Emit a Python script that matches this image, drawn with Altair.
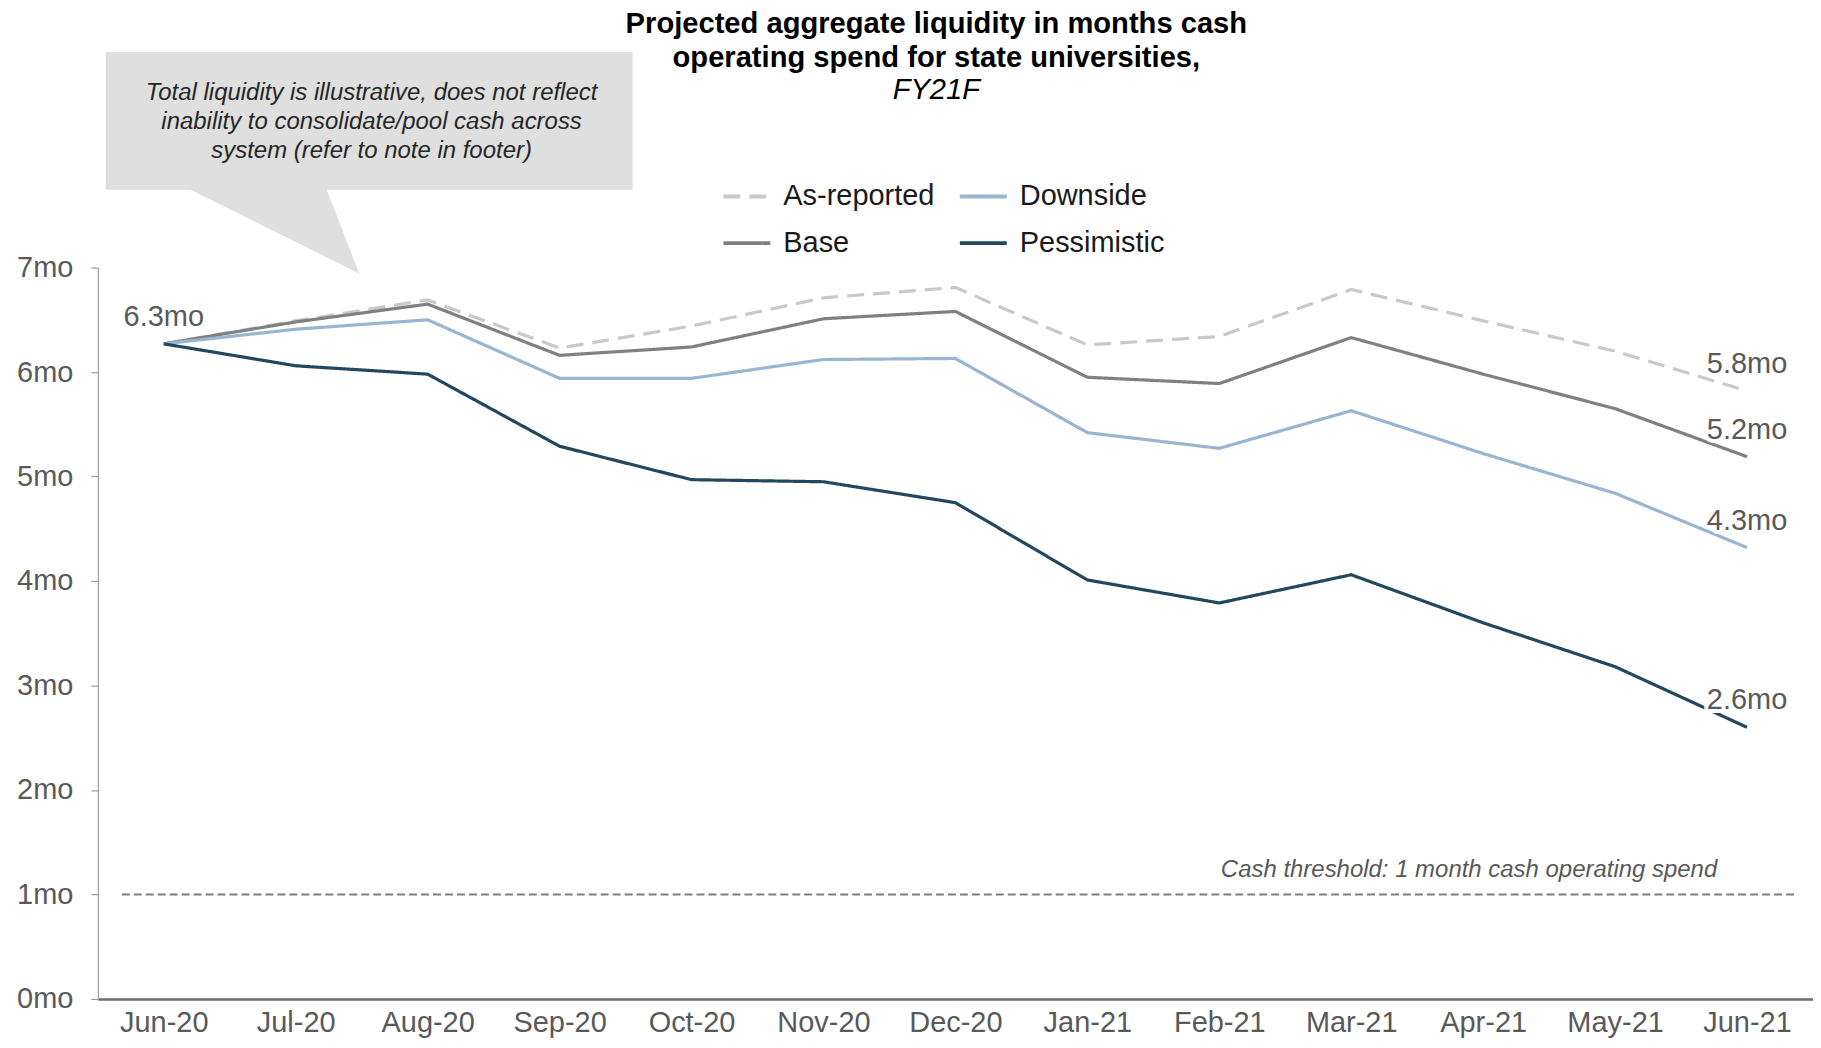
import altair as alt
import pandas as pd

FONT = "Liberation Sans"

months = ["Jun-20", "Jul-20", "Aug-20", "Sep-20", "Oct-20", "Nov-20", "Dec-20",
          "Jan-21", "Feb-21", "Mar-21", "Apr-21", "May-21", "Jun-21"]
as_reported = [6.27, 6.49, 6.69, 6.23, 6.44, 6.71, 6.81, 6.26, 6.34, 6.79, 6.49, 6.20, 5.82]
base = [6.27, 6.48, 6.65, 6.16, 6.24, 6.51, 6.58, 5.95, 5.89, 6.33, 5.98, 5.65, 5.19]
downside = [6.27, 6.41, 6.50, 5.94, 5.94, 6.12, 6.13, 5.42, 5.27, 5.63, 5.22, 4.84, 4.32]
pessimistic = [6.27, 6.06, 5.98, 5.29, 4.97, 4.95, 4.75, 4.01, 3.79, 4.06, 3.60, 3.18, 2.60]

# legend fills column by column: (As-reported, Base) | (Downside, Pessimistic)
series_names = ["As-reported", "Base", "Downside", "Pessimistic"]
series_colors = ["#c9c9c9", "#808080", "#9ab5d1", "#22475f"]
series_dash = [[17, 9], [1, 0], [1, 0], [1, 0]]
y_ticks = [0, 1, 2, 3, 4, 5, 6, 7]
threshold = [1]

title_lines = ["Projected aggregate liquidity in months cash",
               "operating spend for state universities,"]
title_sub = "FY21F"
callout_lines = ["Total liquidity is illustrative, does not reflect",
                 "inability to consolidate/pool cash across",
                 "system (refer to note in footer)"]
threshold_text = "Cash threshold: 1 month cash operating spend"

series_values = {
    "As-reported": as_reported,
    "Downside": downside,
    "Base": base,
    "Pessimistic": pessimistic,
}

rows = []
for name in series_names:
    for m, v in zip(months, series_values[name]):
        rows.append({"month": m, "value": v, "series": name})
df = pd.DataFrame(rows)

label_rows = [{"month": months[0], "value": base[0]}]
for name in series_names:
    label_rows.append({"month": months[-1], "value": series_values[name][-1]})
labels_df = pd.DataFrame(label_rows)

thr_df = pd.DataFrame({"value": threshold})
one = pd.DataFrame({"a": [0]})

W, H = 1719, 733
FS = 29

legend = alt.Legend(
    title=None, orient="none", legendX=625, legendY=-97, columns=2,
    symbolType="stroke", symbolSize=2209, symbolStrokeWidth=4,
    labelFontSize=FS, labelColor="#1a1a1a", labelFont=FONT,
    labelOffset=11, columnPadding=17, rowPadding=6, padding=0,
)

x_enc = alt.X(
    "month:N", sort=months,
    scale=alt.Scale(type="point", padding=0.5, domain=months),
    axis=alt.Axis(title=None, labelAngle=0, ticks=False, tickSize=0,
                  domainColor="#6e6e6e", domainWidth=2.5,
                  labelFontSize=FS, labelColor="#595959", labelFont=FONT,
                  labelPadding=10, grid=False),
)
y_enc = alt.Y(
    "value:Q",
    scale=alt.Scale(domain=[0, 7], nice=False, zero=True),
    axis=alt.Axis(values=y_ticks, title=None, grid=False,
                  labelExpr="format(datum.value, 'd') + 'mo'", tickSize=7,
                  tickColor="#8c8c8c", domainColor="#8c8c8c", domainWidth=1,
                  labelFontSize=FS, labelColor="#595959", labelFont=FONT,
                  labelPadding=18),
)

lines = alt.Chart(df).mark_line(strokeWidth=3.2).encode(
    x=x_enc,
    y=y_enc,
    color=alt.Color("series:N", scale=alt.Scale(domain=series_names, range=series_colors), legend=legend),
    strokeDash=alt.StrokeDash("series:N", scale=alt.Scale(domain=series_names, range=series_dash), legend=legend),
)

thr_rule = alt.Chart(thr_df).mark_rule(strokeDash=[8, 4], color="#7f7f7f", strokeWidth=2).encode(
    y=alt.Y("value:Q"), x=alt.value(24), x2=alt.value(1704)
)
thr_label = alt.Chart(thr_df).mark_text(
    align="right", baseline="middle", dy=-25, fontStyle="italic", fontSize=24,
    color="#595959", font=FONT
).encode(y=alt.Y("value:Q"), x=alt.value(1623), text=alt.value(threshold_text))

end_base = alt.Chart(labels_df).transform_calculate(
    label="format(datum.value, '.1f') + 'mo'"
).encode(x=alt.X("month:N", sort=months), y=alt.Y("value:Q"), text="label:N")
end_halo = end_base.mark_text(dy=-27, fontSize=FS, font=FONT, color="white",
                              stroke="white", strokeWidth=8, strokeJoin="round")
end_text = end_base.mark_text(dy=-27, fontSize=FS, font=FONT, color="#595959")

callout_box = alt.Chart(one).mark_rect(color="#dfdfdf").encode(
    x=alt.value(8), x2=alt.value(536), y=alt.value(-216), y2=alt.value(-78)
)
callout_tri = alt.Chart(one).mark_point(
    shape="M -1.11 -0.551 L 0.586 -0.551 L 0.991 0.492 Z",
    filled=True, color="#dfdfdf", opacity=1, size=28900, strokeWidth=0,
).encode(x=alt.value(177.8), y=alt.value(-35.85))
callout_text = alt.Chart(one).mark_text(
    align="center", baseline="middle", fontStyle="italic", fontSize=24,
    lineHeight=29, color="#262626", font=FONT
).encode(x=alt.value(274.4), y=alt.value(-175), text=alt.value(callout_lines))

title_main = alt.Chart(one).mark_text(
    align="center", baseline="middle", fontWeight="bold", fontSize=29.2,
    lineHeight=34, color="#000000", font=FONT
).encode(x=alt.value(840.4), y=alt.value(-244), text=alt.value(title_lines))
title_italic = alt.Chart(one).mark_text(
    align="center", baseline="middle", fontStyle="italic", fontSize=29.2,
    color="#000000", font=FONT
).encode(x=alt.value(840.4), y=alt.value(-178), text=alt.value(title_sub))

chart = alt.layer(
    lines, thr_rule, thr_label, end_halo, end_text,
    callout_box, callout_tri, callout_text, title_main, title_italic,
).properties(
    width=W, height=H,
    autosize=alt.AutoSizeParams(type="none"),
    padding={"left": 90, "top": 259, "right": 0, "bottom": 40},
).configure(font=FONT).configure_view(stroke=None)

chart.save("out.html", embed_options={"renderer": "svg", "actions": False})
